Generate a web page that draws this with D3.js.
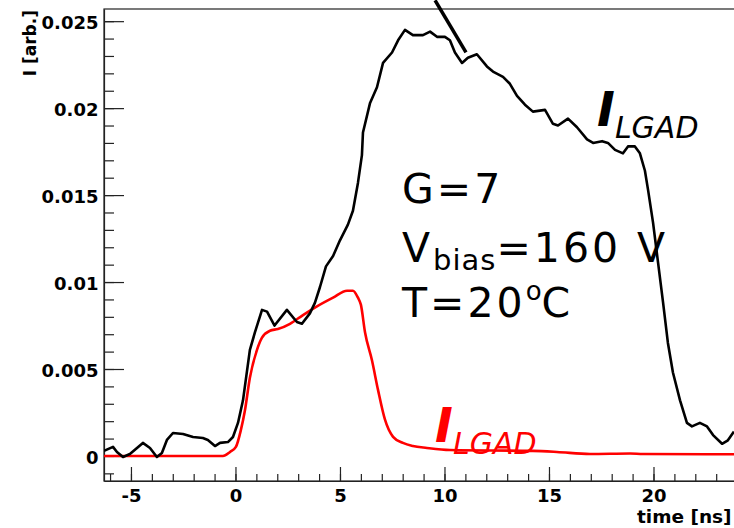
<!DOCTYPE html>
<html>
<head>
<meta charset="utf-8">
<script src="https://cdn.jsdelivr.net/npm/d3@7"></script>
<style>
  body { margin: 0; background: #fff; }
  svg { display: block; }
</style>
</head>
<body>
<div id="viz"></div>
<script>
// measured signal, black (time in ns, current in arb. units)
var dataTime = [-6.29, -5.86, -5.67, -5.38, -5.05, -4.43, -4.09, -3.76, -3.52, -3.28, -2.99, -2.51,
  -2.03, -1.56, -1.32, -0.98, -0.74, -0.36, -0.12, 0.12, 0.36, 0.69, 0.93, 1.27, 1.51, 1.87, 2.46,
  2.94, 3.18, 3.56, 3.80, 4.04, 4.33, 4.67, 5.00, 5.38, 5.62, 5.86, 6.05, 6.10, 6.44, 6.77, 7.06,
  7.49, 7.78, 8.11, 8.49, 8.97, 9.31, 9.64, 10.02, 10.26, 10.50, 10.84, 11.12, 11.55, 12.03, 12.32,
  12.80, 13.13, 13.47, 13.85, 14.23, 14.81, 15.19, 15.43, 15.91, 16.34, 16.82, 17.11, 17.54, 17.82,
  18.16, 18.54, 18.78, 19.11, 19.35, 19.59, 19.74, 19.98, 20.22, 20.46, 20.69, 20.93, 21.27, 21.60,
  21.84, 22.22, 22.56, 22.85, 23.28, 23.56, 23.85];
var dataCurrent = [0.00029, 0.00052, 0.00023, -0.00006, 0.00011, 0.00075, 0.00046, -0.00006, 0.00017,
  0.00092, 0.00132, 0.00126, 0.00109, 0.00103, 0.00092, 0.00057, 0.00075, 0.00080, 0.00109, 0.0019,
  0.0032, 0.0061, 0.0071, 0.0084, 0.0083, 0.0075, 0.0084, 0.0077, 0.0076, 0.0082, 0.0088, 0.0097,
  0.0109, 0.0115, 0.0124, 0.0133, 0.0141, 0.0157, 0.0173, 0.0186, 0.0203, 0.0212, 0.0226, 0.0232,
  0.0239, 0.0245, 0.0242, 0.0242, 0.0244, 0.0241, 0.0241, 0.0239, 0.0232, 0.0226, 0.0229, 0.0231,
  0.0224, 0.0221, 0.0218, 0.0214, 0.0207, 0.0202, 0.0198, 0.0199, 0.0191, 0.0190, 0.0194, 0.0189,
  0.0182, 0.0180, 0.0181, 0.0180, 0.0176, 0.0174, 0.0178, 0.0178, 0.0174, 0.0164, 0.0153, 0.0134,
  0.0111, 0.0088, 0.0065, 0.0048, 0.0032, 0.0019, 0.0017, 0.0019, 0.0017, 0.0012, 0.0007, 0.0009,
  0.0014];

// simulated signal, red
var simTime = [-6.29, -0.6, -0.26, 0.02, 0.26, 0.45, 0.69, 1.03, 1.27, 1.65, 2.03, 2.61, 3.23, 3.90,
  4.67, 5.34, 5.62, 5.86, 6.00, 6.20, 6.53, 6.82, 7.15, 7.54, 8.01, 8.49, 9.16, 10.26, 14.23, 15.38,
  16.96, 18.88, 19.5, 23.3, 25];
var simCurrent = [0, 0, 0.00023, 0.00052, 0.0015, 0.0026, 0.0045, 0.0061, 0.0068, 0.0072, 0.0073,
  0.0076, 0.0081, 0.0086, 0.0091, 0.0095, 0.0095, 0.0091, 0.0087, 0.0071, 0.0055, 0.0038, 0.0021,
  0.0011, 0.00075, 0.00057, 0.00046, 0.00034, 0.00029, 0.00023, 0.00011, 0.00014, 0.00011, 0.0001,
  0.0001];

var xMajor = [-5, 0, 5, 10, 15, 20];
var xMajorLabels = ['-5', '0', '5', '10', '15', '20'];
var yMajor = [0, 0.005, 0.01, 0.015, 0.02, 0.025];
var yMajorLabels = ['0', '0.005', '0.01', '0.015', '0.02', '0.025'];

var width = 734,
  height = 528,
  frame = { left: 104, right: 758, top: 9, bottom: 481 };

var x = d3.scaleLinear()
  .domain([-6.29, 25])
  .range([frame.left, frame.right]);

var y = d3.scaleLinear()
  .domain([-0.00144, 0.0257])
  .range([frame.bottom, frame.top]);

var svg = d3.select('#viz').append('svg')
  .attr('width', width)
  .attr('height', height);

svg.append('defs').append('clipPath')
  .attr('id', 'plotclip')
  .append('rect')
  .attr('x', frame.left)
  .attr('y', frame.top)
  .attr('width', frame.right - frame.left)
  .attr('height', frame.bottom - frame.top);

// frame
svg.append('rect')
  .attr('x', frame.left)
  .attr('y', frame.top)
  .attr('width', frame.right - frame.left)
  .attr('height', frame.bottom - frame.top)
  .attr('fill', 'none')
  .attr('stroke', '#222')
  .attr('stroke-width', 1.2);

// minor ticks
var xMinor = d3.range(-6, 25, 1);
var yMinor = d3.range(-1, 26, 1).map(function(v) { return v / 1000; });

svg.append('g')
  .attr('transform', 'translate(0,' + frame.bottom + ')')
  .call(d3.axisBottom(x).tickValues(xMinor).tickSize(-7).tickSizeOuter(0).tickFormat(''))
  .call(function(g) { g.select('.domain').remove(); });

svg.append('g')
  .attr('transform', 'translate(' + frame.left + ',0)')
  .call(d3.axisLeft(y).tickValues(yMinor).tickSize(-10).tickSizeOuter(0).tickFormat(''))
  .call(function(g) { g.select('.domain').remove(); });

// major ticks + labels
var xAxis = svg.append('g')
  .attr('transform', 'translate(0,' + frame.bottom + ')')
  .call(d3.axisBottom(x)
    .tickValues(xMajor)
    .tickSize(-14)
    .tickSizeOuter(0)
    .tickPadding(8)
    .tickFormat(function(d, i) { return xMajorLabels[i]; }));

var yAxis = svg.append('g')
  .attr('transform', 'translate(' + frame.left + ',0)')
  .call(d3.axisLeft(y)
    .tickValues(yMajor)
    .tickSize(-20)
    .tickSizeOuter(0)
    .tickPadding(5.5)
    .tickFormat(function(d, i) { return yMajorLabels[i]; }));

yAxis.selectAll('text').attr('dy', '0.4em');

svg.selectAll('.tick line').attr('stroke', '#222').attr('stroke-width', 1.2);
svg.selectAll('.domain').attr('stroke', '#222').attr('stroke-width', 1.2);
svg.selectAll('.tick text')
  .attr('fill', '#000')
  .style('font', 'bold 18px "DejaVu Sans"');

// axis titles
svg.append('text')
  .attr('transform', 'translate(36,10) rotate(-90)')
  .attr('text-anchor', 'end')
  .style('font', 'bold 17px "DejaVu Sans"')
  .text('I [arb.]');

svg.append('text')
  .attr('x', 637)
  .attr('y', 523)
  .style('font', 'bold 18.5px "DejaVu Sans"')
  .text('time [ns]');

// curves
var line = d3.line()
  .x(function(d) { return x(d[0]); })
  .y(function(d) { return y(d[1]); });

var plot = svg.append('g').attr('clip-path', 'url(#plotclip)');

plot.append('path')
  .datum(d3.zip(simTime, simCurrent))
  .attr('fill', 'none')
  .attr('stroke', '#ff0000')
  .attr('stroke-width', 2.6)
  .attr('stroke-linejoin', 'round')
  .attr('d', line.curve(d3.curveMonotoneX));

plot.append('path')
  .datum(d3.zip(dataTime, dataCurrent))
  .attr('fill', 'none')
  .attr('stroke', '#000')
  .attr('stroke-width', 2.6)
  .attr('stroke-linejoin', 'round')
  .attr('d', line.curve(d3.curveLinear));

// annotation pointer from above the frame
svg.append('line')
  .attr('x1', x(9.55)).attr('y1', y(0.0262))
  .attr('x2', x(11.03)).attr('y2', y(0.0232))
  .attr('stroke', '#000')
  .attr('stroke-width', 3.5);

// labels
function ilgad(t, v, color) {
  var txt = svg.append('text')
    .attr('x', x(t))
    .attr('y', y(v))
    .attr('fill', color)
    .style('font-family', '"DejaVu Sans"')
    .style('font-style', 'oblique');
  txt.append('tspan').style('font-size', '48px').style('font-weight', 'bold').text('I');
  txt.append('tspan').attr('dy', 12).style('font-size', '30px').text('LGAD');
}
ilgad(17.3, 0.0190, '#000');
ilgad(9.55, 0.0008, '#ff0000');

var info = svg.append('g')
  .style('font', '41px "DejaVu Sans"')
  .style('letter-spacing', '3px')
  .attr('fill', '#000');

info.append('text')
  .attr('x', x(7.97)).attr('y', y(0.01454))
  .text('G=7');

var vb = info.append('text')
  .attr('x', x(7.97)).attr('y', y(0.01115));
vb.append('tspan').text('V');
vb.append('tspan').attr('dy', 8).style('font-size', '29px').style('letter-spacing', '1px').text('bias');
vb.append('tspan').attr('dy', -8).text('=160 V');

var tt = info.append('text')
  .attr('x', x(7.97)).attr('y', y(0.0080));
tt.append('tspan').text('T=20');
tt.append('tspan').attr('dy', -17).style('font-size', '26px').style('letter-spacing', '0px').text('o');
tt.append('tspan').attr('dy', 17).text('C');
</script>
</body>
</html>
